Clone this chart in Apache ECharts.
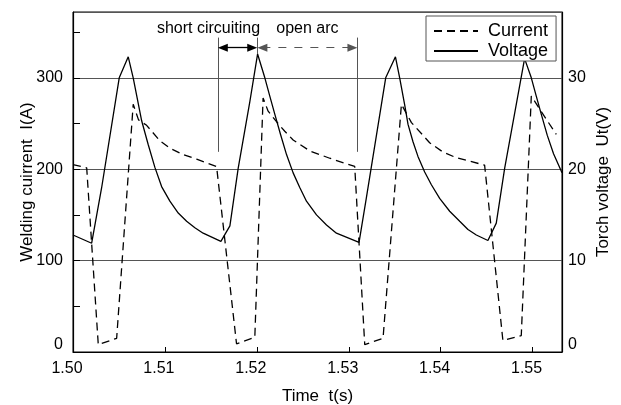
<!DOCTYPE html>
<html><head><meta charset="utf-8">
<script src="https://cdn.jsdelivr.net/npm/echarts@6/dist/echarts.min.js"></script>
<style>html,body{margin:0;padding:0;background:#fff}#c{width:621px;height:405px}</style>
</head><body><div id="c"></div>
<script>
// ---- data ----
const currentT = [1.5000, 1.50149, 1.50275, 1.50475, 1.50655, 1.50713, 1.50801, 1.50946, 1.51054, 1.51199, 1.51345, 1.51562,
  1.51779, 1.51978, 1.52068, 1.52123, 1.52214, 1.52304, 1.52395, 1.52576, 1.52793, 1.53065,
  1.53174, 1.53373, 1.53573, 1.53682, 1.53880, 1.54022, 1.54171, 1.54478,
  1.54677, 1.54877, 1.54986, 1.55095, 1.55258];
const currentA = [205, 201.5, 8, 15, 271, 254, 248, 231, 223, 216, 211, 203,
  9, 16, 278, 263.5, 252, 241.5, 232, 220, 212, 203,
  8, 15, 271, 251, 229, 219, 212.5, 204.5,
  12.5, 18, 280, 263, 238];
const voltageT = [1.5000, 1.50203, 1.50312, 1.50503, 1.50601, 1.50655, 1.50747, 1.50818, 1.50891, 1.50964, 1.51054, 1.51145, 1.51236, 1.51326, 1.51416, 1.51609,
  1.51707, 1.51797, 1.51924, 1.52008, 1.52087, 1.52141, 1.52196, 1.52258, 1.52323, 1.52395, 1.52467, 1.52540, 1.52649, 1.52758, 1.52866, 1.53112,
  1.53192, 1.53402, 1.53508, 1.53554, 1.53609, 1.53645, 1.53699, 1.53753, 1.53826, 1.53899, 1.53989, 1.54098, 1.54207, 1.54297, 1.54388, 1.54514,
  1.54605, 1.54696, 1.54913, 1.54986, 1.55040, 1.55095, 1.55160, 1.55228, 1.5532];
const voltageV = [12.8, 11.9, 18.0, 30.0, 32.3, 30.0, 25.3, 22.7, 20.2, 18.1, 16.5, 15.2, 14.3, 13.6, 13.0, 12.1,
  13.8, 20.1, 27.4, 32.6, 30.0, 28.0, 26.0, 23.8, 21.6, 19.6, 18.0, 16.5, 15.0, 13.9, 13.0, 12.0,
  16.9, 30.0, 32.3, 30.0, 27.0, 24.9, 23.0, 21.4, 19.7, 18.3, 16.8, 15.4, 14.3, 13.4, 12.8, 12.2,
  14.1, 20.1, 32.1, 30.0, 28.0, 26.0, 23.7, 21.7, 19.6];
const xTickLabels = ['1.50', '1.51', '1.52', '1.53', '1.54', '1.55'];
const leftTickLabels = [0, 100, 200, 300];
const rightTickLabels = [0, 10, 20, 30];
// phase annotation times (s) and current level (A)
const phaseTimes = [1.5158, 1.5200, 1.5309];
const phaseLabels = ['short circuiting', 'open arc'];
const seriesNames = ['Current', 'Voltage'];

const zip = (a, b) => a.map((v, i) => [v, b[i]]);
const FONT = 'Liberation Sans, Arial, sans-serif';

const chart = echarts.init(document.getElementById('c'), null, {renderer: 'canvas'});
const arrowY = 333, topY = 344;
chart.setOption({
  animation: false,
  textStyle: {fontFamily: FONT, color: '#000'},
  grid: {left: 73, right: 59, top: 12, bottom: 53, show: true, borderColor: '#000', borderWidth: 1,
    containLabel: false, outerBoundsMode: 'none'},
  legend: {
    left: 426, top: 16, orient: 'vertical',
    itemWidth: 44, itemHeight: 14, itemGap: 2,
    padding: [6, 8, 1, 7],
    borderColor: '#555', borderWidth: 1, backgroundColor: '#fff',
    itemStyle: {opacity: 0},
    textStyle: {fontSize: 18, color: '#000', fontFamily: FONT, lineHeight: 18, padding: [0, 0, 0, 5]},
    data: seriesNames
  },
  xAxis: {
    type: 'value', min: 1.50, max: 1.5532, interval: 0.01,
    axisLine: {show: true, lineStyle: {color: '#000', width: 1.2}},
    axisTick: {show: true, inside: true, length: 5, lineStyle: {color: '#000'}},
    axisLabel: {color: '#000', fontSize: 16, margin: 9, padding: [0, 12, 0, 0], showMaxLabel: false,
      formatter: v => { const s = v.toFixed(2); return xTickLabels.includes(s) ? s : ''; }},
    splitLine: {show: false},
    name: 'Time  t(s)', nameLocation: 'middle', nameGap: 36, nameMoveOverlap: false,
    nameTextStyle: {fontSize: 17, color: '#000', fontFamily: FONT}
  },
  yAxis: [{
    type: 'value', position: 'left', min: 0, max: 372, interval: 50,
    axisLine: {show: true, lineStyle: {color: '#000', width: 1.2}},
    axisTick: {show: true, inside: true, length: 7, lineStyle: {color: '#000'}},
    axisLabel: {color: '#000', fontSize: 16, margin: 10, showMaxLabel: false,
      formatter: v => leftTickLabels.includes(v) ? (v === 0 ? '{z|0}' : String(v)) : '',
      rich: {z: {fontSize: 16, color: '#000', padding: [0, 0, 14, 0]}}},
    splitLine: {show: false},
    name: 'Welding cuirrent  I(A)', nameLocation: 'middle', nameRotate: 90, nameGap: 37, nameMoveOverlap: false,
    nameTextStyle: {fontSize: 17, color: '#000', fontFamily: FONT}
  }, {
    type: 'value', position: 'right', min: 0, max: 37.2, interval: 10,
    axisLine: {show: true, lineStyle: {color: '#000', width: 1.2}},
    axisTick: {show: false},
    axisLabel: {color: '#000', fontSize: 16, margin: 6, showMaxLabel: false,
      formatter: v => rightTickLabels.includes(v) ? (v === 0 ? '{z|0}' : String(v)) : '',
      rich: {z: {fontSize: 16, color: '#000', padding: [0, 0, 14, 0]}}},
    splitLine: {show: true, lineStyle: {color: '#555', width: 1}},
    name: 'Torch voltage  Ut(V)', nameLocation: 'middle', nameRotate: 90, nameGap: 33, nameMoveOverlap: false,
    nameTextStyle: {fontSize: 17, color: '#000', fontFamily: FONT}
  }],
  series: [{
    name: seriesNames[0], type: 'line', yAxisIndex: 0,
    data: zip(currentT, currentA), symbol: 'none', showSymbol: false,
    lineStyle: {color: '#000', width: 1.3, type: [8, 5]},
    itemStyle: {color: '#000'},
    z: 3,
    markLine: {
      silent: true, animation: false, symbol: 'none', precision: 5,
      data: [
        [{coord: [phaseTimes[0], topY], lineStyle: {color: '#555', width: 1, type: 'solid'}, label: {show: false}}, {coord: [phaseTimes[0], 219]}],
        [{coord: [phaseTimes[2], topY], lineStyle: {color: '#555', width: 1, type: 'solid'}, label: {show: false}}, {coord: [phaseTimes[2], 219]}],
        [{coord: [phaseTimes[1], topY], lineStyle: {color: '#555', width: 1, type: 'solid'}, label: {show: false}}, {coord: [phaseTimes[1], 326]}],
        [{coord: [phaseTimes[0] + 0.0005, arrowY], symbol: 'triangle', symbolSize: [8, 10],
          lineStyle: {color: '#000', width: 1.3, type: 'solid'},
          label: {show: true, formatter: phaseLabels[0], position: 'middle', distance: 11, padding: [0, 58, 0, 0], fontSize: 16, color: '#000', fontFamily: FONT}},
         {coord: [phaseTimes[1] - 0.0005, arrowY], symbol: 'triangle', symbolSize: [8, 10]}],
        [{coord: [phaseTimes[1] + 0.0006, arrowY], symbol: 'triangle', symbolSize: [8, 10],
          lineStyle: {color: '#555', width: 1.2, type: [8, 8]},
          label: {show: true, formatter: phaseLabels[1], position: 'middle', distance: 11, fontSize: 16, color: '#000', fontFamily: FONT}},
         {coord: [phaseTimes[2] - 0.0005, arrowY], symbol: 'triangle', symbolSize: [8, 10]}]
      ]
    }
  }, {
    name: seriesNames[1], type: 'line', yAxisIndex: 1,
    data: zip(voltageT, voltageV), symbol: 'none', showSymbol: false,
    lineStyle: {color: '#000', width: 1.3, type: 'solid'},
    itemStyle: {color: '#000'},
    z: 3
  }]
});
</script>
</body></html>
